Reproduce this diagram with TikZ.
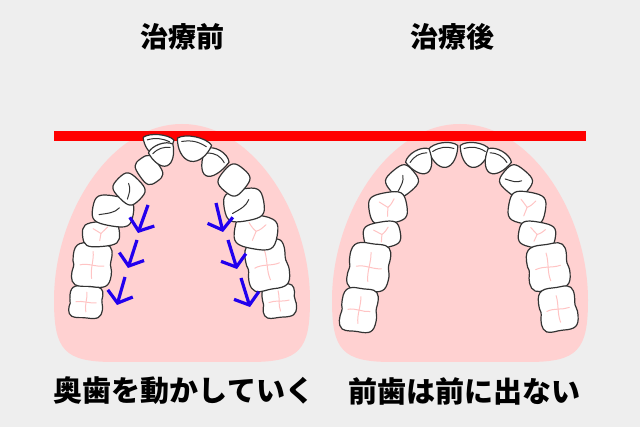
\documentclass[tikz,border=0pt]{standalone}
\usepackage{fontspec}
\newfontfamily\jpfont{Noto Sans CJK JP}
\usetikzlibrary{arrows.meta}
\definecolor{bggray}{RGB}{238,238,238}
\definecolor{palatepink}{RGB}{255,209,209}
\definecolor{toothline}{RGB}{51,51,51}
\definecolor{groovepink}{RGB}{255,196,196}
\definecolor{arrowblue}{RGB}{34,0,238}
\tikzset{
  tooth/.style={draw=toothline, fill=white, line width=1.2pt, line join=round},
  groove/.style={draw=groovepink, line width=1pt, line cap=round},
  ridge/.style={draw=toothline, line width=1pt, line cap=round},
  movearrow/.style={draw=arrowblue, line width=3.2pt, -{Straight Barb[length=10pt,width=26pt]}},
  label/.style={font=\jpfont\bfseries\fontsize{28}{30}\selectfont, text=black},
  roundtooth/.pic={
    \path[tooth] (-0.5,0) .. controls (-0.5,-0.42) and (-0.42,-0.5) .. (0,-0.5)
      .. controls (0.42,-0.5) and (0.5,-0.42) .. (0.5,0)
      .. controls (0.5,0.42) and (0.42,0.5) .. (0,0.5)
      .. controls (-0.42,0.5) and (-0.5,0.42) .. (-0.5,0) -- cycle;
  },
  molar/.pic={
    \path[tooth] (-0.48,-0.05) .. controls (-0.52,-0.42) and (-0.4,-0.5) .. (-0.05,-0.48)
      .. controls (0.1,-0.47) and (0.2,-0.5) .. (0.32,-0.48)
      .. controls (0.48,-0.45) and (0.5,-0.3) .. (0.46,-0.1)
      .. controls (0.44,0) and (0.52,0.05) .. (0.5,0.2)
      .. controls (0.48,0.45) and (0.38,0.5) .. (0.05,0.48)
      .. controls (-0.1,0.47) and (-0.25,0.52) .. (-0.38,0.47)
      .. controls (-0.52,0.4) and (-0.5,0.2) .. (-0.46,0.08)
      .. controls (-0.45,0.03) .. (-0.48,-0.05) -- cycle;
    \draw[groove] (-0.3,0.02) .. controls (-0.1,-0.04) and (0.1,0.04) .. (0.3,0);
    \draw[groove] (0,-0.3) .. controls (0.04,-0.1) and (-0.04,0.1) .. (0.02,0.3);
  },
  premolar/.pic={
    \path[tooth] (-0.5,0) .. controls (-0.5,-0.42) and (-0.42,-0.5) .. (0,-0.5)
      .. controls (0.42,-0.5) and (0.5,-0.42) .. (0.5,0)
      .. controls (0.5,0.42) and (0.42,0.5) .. (0,0.5)
      .. controls (-0.42,0.5) and (-0.5,0.42) .. (-0.5,0) -- cycle;
    \draw[groove] (-0.2,-0.24) .. controls (-0.1,-0.1) .. (0,-0.02) .. controls (0.1,-0.1) .. (0.2,-0.26);
    \draw[groove] (0,-0.02) .. controls (-0.03,0.1) .. (-0.05,0.26);
  },
  incisor/.pic={
    \path[tooth] (-0.5,-0.3) .. controls (-0.3,-0.56) and (0.3,-0.56) .. (0.5,-0.3)
      .. controls (0.45,0.1) and (0.25,0.5) .. (0,0.5)
      .. controls (-0.25,0.5) and (-0.45,0.1) .. (-0.5,-0.3) -- cycle;
    \draw[ridge] (-0.36,-0.2) .. controls (-0.1,-0.34) and (0.1,-0.34) .. (0.36,-0.2);
  },
  canine/.pic={
    \path[tooth] (-0.5,0) .. controls (-0.5,-0.42) and (-0.42,-0.5) .. (0,-0.5)
      .. controls (0.42,-0.5) and (0.5,-0.42) .. (0.5,0)
      .. controls (0.5,0.42) and (0.42,0.5) .. (0,0.5)
      .. controls (-0.42,0.5) and (-0.5,0.42) .. (-0.5,0) -- cycle;
    \draw[ridge] (-0.32,0.2) .. controls (-0.1,0.1) and (0.05,0.05) .. (0.14,-0.14);
  }
}
\begin{document}
\begin{tikzpicture}[x=1pt, y=-1pt]
\useasboundingbox (0,0) rectangle (640,427);
\fill[bggray] (0,0) rectangle (640,427);

\foreach \dx in {0,278}
  \fill[palatepink, xshift=\dx] (54,300) .. controls (54,215) and (110,124) .. (182,124)
    .. controls (254,124) and (310,215) .. (310,300)
    .. controls (310,350) and (300,362) .. (250,362) -- (114,362)
    .. controls (64,362) and (54,350) .. (54,300) -- cycle;

\fill[red] (54,131) rectangle (586,141);

\pic[rotate=-5, xscale=34, yscale=33] (c8) at (86,302) {molar};
\pic[rotate=-5, xscale=40, yscale=45] (c7) at (92,265) {molar};
\pic[rotate=5, xscale=37, yscale=25] (c6) at (101,234) {premolar};
\pic[rotate=-10, xscale=41, yscale=30] (c5) at (113,211) {canine};
\pic[rotate=45, xscale=26, yscale=30] (c4) at (129,189) {canine};
\pic[rotate=35, xscale=22, yscale=28] (c3) at (149,170) {roundtooth};
\pic[rotate=-5, xscale=31, yscale=21] (c1) at (158,145) {incisor};
\pic[rotate=20, xscale=26, yscale=23] (c2) at (163,155) {incisor};

\pic[rotate=5, xscale=34, yscale=34] (d7) at (279,301) {molar};
\pic[rotate=10, xscale=42, yscale=51] (d6) at (267,265) {molar};
\pic[rotate=-10, xscale=43, yscale=34] (d5) at (256,232) {premolar};
\pic[rotate=10, xscale=40, yscale=32] (d4) at (244,205) {canine};
\pic[rotate=-40, xscale=27, yscale=29] (d3) at (234,180) {roundtooth};
\pic[rotate=-30, xscale=27, yscale=29] (d2) at (213,163) {incisor};
\pic[rotate=-12, xscale=35, yscale=25] (d1) at (193,149) {incisor};

\pic[rotate=8, xscale=30, yscale=25] (a1) at (444,155) {incisor};
\pic[rotate=30, xscale=27, yscale=25] (a2) at (421,162) {incisor};
\pic[rotate=40, xscale=30, yscale=27] (a3) at (402,181) {canine};
\pic[rotate=10, xscale=38, yscale=31] (a4) at (388,208) {premolar};
\pic[rotate=10, xscale=37, yscale=26] (a5) at (382,235) {premolar};
\pic[rotate=-8, xscale=42, yscale=49] (a6) at (369,267) {molar};
\pic[rotate=-8, xscale=37, yscale=45] (a7) at (359,310) {molar};

\pic[rotate=-8, xscale=30, yscale=25] (b1) at (474,155) {incisor};
\pic[rotate=-30, xscale=27, yscale=25] (b2) at (496,162) {incisor};
\pic[rotate=-40, xscale=30, yscale=27] (b3) at (516,181) {canine};
\pic[rotate=-10, xscale=37, yscale=32] (b4) at (527,208) {premolar};
\pic[rotate=-10, xscale=37, yscale=26] (b5) at (537,235) {premolar};
\pic[rotate=8, xscale=42, yscale=47] (b6) at (548,267) {molar};
\pic[rotate=8, xscale=38, yscale=45] (b7) at (558,309) {molar};

\draw[movearrow] (148,205) -- (138,233);
\draw[movearrow] (137,240) -- (128,268);
\draw[movearrow] (125,277) -- (117,305);
\draw[movearrow] (216,203) -- (223,232);
\draw[movearrow] (228,240) -- (237,269);
\draw[movearrow] (241,278) -- (250,307);

\node[label] (before) at (182,37) {治療前};
\node[label] (after) at (452,37) {治療後};
\node[label, font=\jpfont\bfseries\fontsize{29}{31}\selectfont] (backteeth) at (184,391) {奥歯を動かしていく};
\node[label, font=\jpfont\bfseries\fontsize{29}{31}\selectfont] (frontteeth) at (464,391) {前歯は前に出ない};
\end{tikzpicture}
\end{document}
